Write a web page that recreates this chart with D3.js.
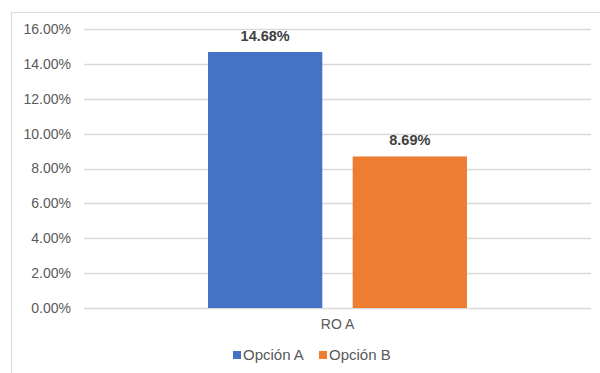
<!DOCTYPE html>
<html>
<head>
<meta charset="utf-8">
<script src="https://cdn.jsdelivr.net/npm/d3@7"></script>
<style>
  body { margin: 0; background: #fff; }
  svg { display: block; font-family: "Liberation Sans", Arial, sans-serif; }
</style>
</head>
<body>
<svg id="chart" width="600" height="373"></svg>
<script>
    // data
    const categories = ["RO A"];
    const series = ["Opción A", "Opción B"];
    const values = [0.1468, 0.0869];
    const colors = ["#4472C4", "#ED7D31"];
    const yTicks = [0, 0.02, 0.04, 0.06, 0.08, 0.10, 0.12, 0.14, 0.16];

    const svg = d3.select("#chart");
    const margin = { top: 29, right: 9, bottom: 65, left: 84 };
    const width = 600 - margin.left - margin.right;
    const height = 373 - margin.top - margin.bottom;

    // chart border (clipped on the right and bottom like the original)
    svg.append("rect")
        .attr("x", 11.5).attr("y", 12.5)
        .attr("width", 620).attr("height", 400)
        .attr("fill", "none")
        .attr("stroke", "#d9d9d9");

    const g = svg.append("g")
        .attr("transform", "translate(" + margin.left + "," + margin.top + ")");

    const y = d3.scaleLinear().domain([0, 0.16]).range([height, 0]);
    const x0 = d3.scaleBand().domain(categories).range([0, width]).paddingOuter(0.479);
    const x1 = d3.scaleBand().domain(series).range([0, x0.bandwidth()]).paddingInner(0.21);

    // grid
    g.append("g")
        .selectAll("line")
        .data(yTicks)
        .join("line")
        .attr("x1", 0).attr("x2", width)
        .attr("y1", d => Math.round(y(d)) + 0.5)
        .attr("y2", d => Math.round(y(d)) + 0.5)
        .attr("stroke", "#d9d9d9")
        .attr("stroke-width", 1.3);

    // y labels
    const yAxis = g.append("g")
        .call(d3.axisLeft(y).tickValues(yTicks).tickFormat(d3.format(".2%")).tickSize(0).tickPadding(13));
    yAxis.select(".domain").remove();
    yAxis.selectAll("text")
        .attr("fill", "#595959")
        .style("font-size", "14px");

    // bars
    const grp = g.selectAll(".cat")
        .data(categories)
        .join("g")
        .attr("class", "cat")
        .attr("transform", d => "translate(" + x0(d) + ",0)");

    grp.selectAll("rect")
        .data(series.map((s, i) => ({ s: s, v: values[i], c: colors[i] })))
        .join("rect")
        .attr("x", d => x1(d.s))
        .attr("y", d => y(d.v))
        .attr("width", x1.bandwidth())
        .attr("height", d => height - y(d.v))
        .attr("fill", d => d.c);

    grp.selectAll(".lbl")
        .data(series.map((s, i) => ({ s: s, v: values[i] })))
        .join("text")
        .attr("class", "lbl")
        .attr("x", d => x1(d.s) + x1.bandwidth() / 2)
        .attr("y", d => y(d.v) - 11)
        .attr("text-anchor", "middle")
        .attr("fill", "#404040")
        .style("font-size", "14.5px")
        .style("font-weight", "bold")
        .text(d => d3.format(".2%")(d.v));

    // x labels
    const xAxis = g.append("g")
        .attr("transform", "translate(0," + height + ")")
        .call(d3.axisBottom(x0).tickSize(0).tickPadding(11));
    xAxis.select(".domain").remove();
    xAxis.selectAll("text")
        .attr("fill", "#595959")
        .style("font-size", "14px");

    // legend
    const legend = svg.append("g").attr("transform", "translate(233,355)");
    const items = legend.selectAll("g")
        .data(series)
        .join("g")
        .attr("transform", (d, i) => "translate(" + (i * 86) + ",0)");
    items.append("rect")
        .attr("x", 0).attr("y", -4)
        .attr("width", 8).attr("height", 8)
        .attr("fill", (d, i) => colors[i]);
    items.append("text")
        .attr("x", 10).attr("y", 5)
        .attr("fill", "#595959")
        .style("font-size", "15px")
        .text(d => d);
</script>
</body>
</html>
